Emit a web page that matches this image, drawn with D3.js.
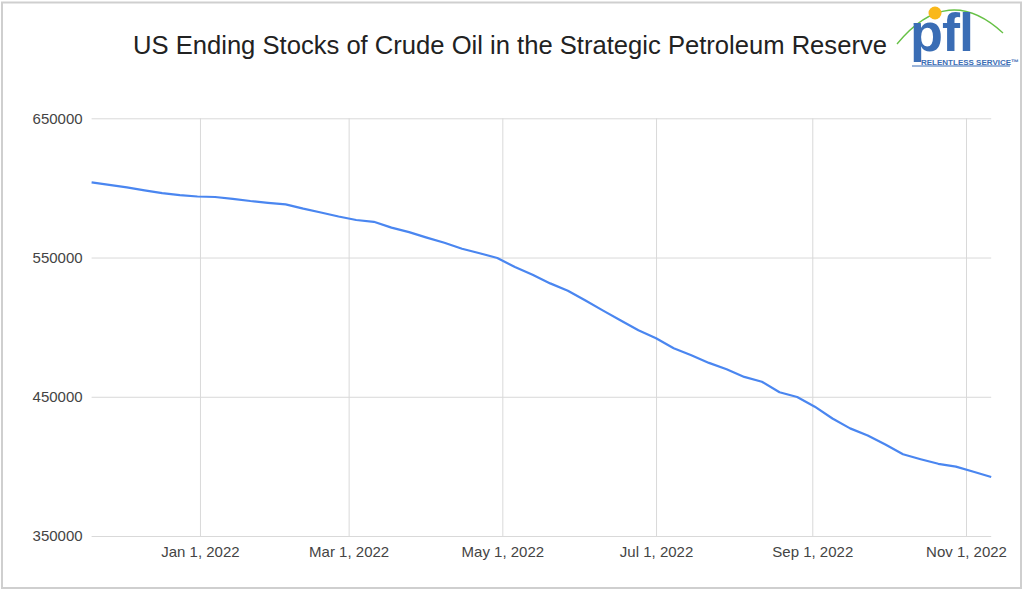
<!DOCTYPE html>
<meta charset="utf-8">
<style>
  body { margin: 0; background: #fff; }
  text { font-family: Arial, "Liberation Sans", sans-serif; }
</style>
<body>
<script src="https://cdnjs.cloudflare.com/ajax/libs/d3/7.8.5/d3.min.js"></script>
<script>
  var width = 1024;
  var height = 591;

  // weekly SPR stocks (thousand barrels), week ending Friday
  var startWeek = "2021-11-19";
  var stocks = [604035, 602240, 600370, 598290, 596280, 594840, 593840, 593480,
    592190, 590600, 589310, 588160, 585080, 582350, 579470, 576960, 575670,
    571500, 568270, 564320, 560660, 556280, 553040, 549670, 543200, 537670,
    531430, 526180, 519140, 511890, 504780, 497810, 492000, 484890, 479790,
    474330, 469730, 464270, 460830, 453210, 449840, 442870, 434400, 427290,
    422190, 415720, 408760, 405170, 401860, 399850, 396120, 392380];

  var yTicks = [350000, 450000, 550000, 650000];
  var xTicks = ["2022-01-01", "2022-03-01", "2022-05-01", "2022-07-01", "2022-09-01", "2022-11-01"];

  var parse = d3.utcParse("%Y-%m-%d");
  var t0 = parse(startWeek);
  var data = stocks.map(function(v, i) {
    return { date: d3.utcDay.offset(t0, i * 7), value: v };
  });

  var x = d3.scaleUtc()
    .domain([data[0].date, data[data.length - 1].date])
    .range([91.6, 991.2]);

  var y = d3.scaleLinear()
    .domain([350000, 650000])
    .range([536, 118.3]);

  var svg = d3.select("body").append("svg")
    .attr("width", width)
    .attr("height", height);

  // outer border
  svg.append("rect")
    .attr("x", 2).attr("y", 2.5)
    .attr("width", 1019).attr("height", 585.5)
    .attr("fill", "#fff")
    .attr("stroke", "#cfcfcf")
    .attr("stroke-width", 2);

  // horizontal gridlines + value labels
  svg.append("g")
    .attr("transform", "translate(91.6,0)")
    .call(d3.axisLeft(y).tickValues(yTicks).tickSize(-(991.2 - 91.6)).tickFormat(d3.format("d")).tickPadding(9))
    .call(function(g) {
      g.select(".domain").remove();
      g.selectAll(".tick line").attr("stroke", "#d9d9d9");
      g.selectAll(".tick text")
        .attr("fill", "#444")
        .style("font-size", "15px")
        .style("font-family", "Arial, 'Liberation Sans', sans-serif");
    });

  // vertical gridlines + date labels
  svg.append("g")
    .attr("transform", "translate(0,536)")
    .call(d3.axisBottom(x).tickValues(xTicks.map(parse)).tickSize(-(536 - 118.3))
      .tickFormat(d3.utcFormat("%b %-d, %Y")).tickPadding(10))
    .call(function(g) {
      g.select(".domain").remove();
      g.selectAll(".tick line").attr("stroke", "#d9d9d9");
      g.selectAll(".tick text")
        .attr("fill", "#444")
        .style("font-size", "15px")
        .style("font-family", "Arial, 'Liberation Sans', sans-serif");
    });

  var line = d3.line()
    .x(function(d) { return x(d.date); })
    .y(function(d) { return y(d.value); });

  svg.append("path")
    .datum(data)
    .attr("d", line)
    .attr("fill", "none")
    .attr("stroke", "#4a86f0")
    .attr("stroke-width", 2.2)
    .attr("stroke-linejoin", "round");

  // title
  svg.append("text")
    .attr("x", 133)
    .attr("y", 54)
    .attr("fill", "#222")
    .style("font-size", "25.6px")
    .text("US Ending Stocks of Crude Oil in the Strategic Petroleum Reserve");

  // pfl logo
  var logo = svg.append("g");
  logo.append("path")
    .attr("d", "M897,44 Q948,-18 1003,33")
    .attr("fill", "none")
    .attr("stroke", "#66c145")
    .attr("stroke-width", 1.3);
  logo.append("text")
    .attr("x", 910)
    .attr("y", 51)
    .attr("fill", "#3a6db5")
    .style("font-size", "54px")
    .style("font-weight", "bold")
    .style("letter-spacing", "-1px")
    .text("pfl");
  logo.append("circle")
    .attr("cx", 935).attr("cy", 13).attr("r", 6.5)
    .attr("fill", "#f9b81b");
  logo.append("text")
    .attr("x", 921)
    .attr("y", 64.5)
    .attr("fill", "#3a6db5")
    .style("font-size", "8px")
    .style("font-weight", "bold")
    .text("RELENTLESS SERVICE\u2122");
  logo.append("line")
    .attr("x1", 912).attr("x2", 1010)
    .attr("y1", 66).attr("y2", 66)
    .attr("stroke", "#3a6db5")
    .attr("stroke-width", 1);
</script>
